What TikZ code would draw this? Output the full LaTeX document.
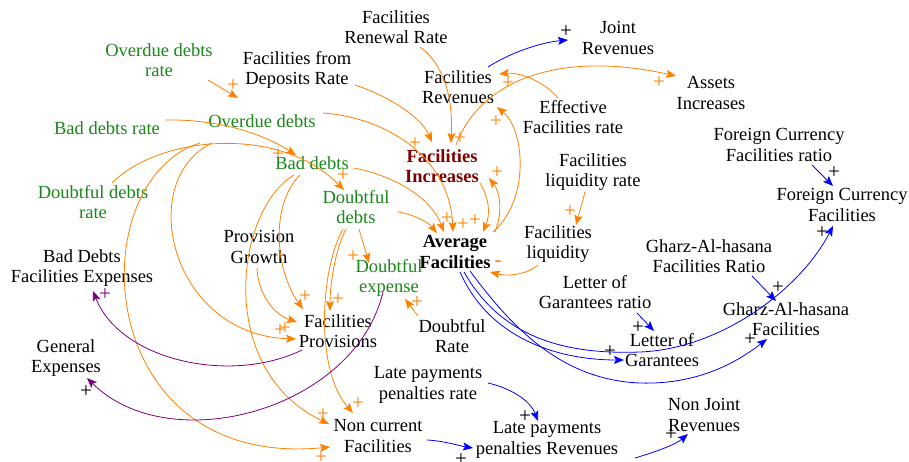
\documentclass[tikz,border=0pt]{standalone}
\usepackage{fontspec}
\setmainfont{Liberation Serif}
\usetikzlibrary{arrows.meta}
\definecolor{cOr}{RGB}{255,128,0}
\definecolor{cBl}{RGB}{0,0,255}
\definecolor{cPu}{RGB}{128,0,128}
\definecolor{cGr}{RGB}{25,135,25}
\definecolor{cRd}{RGB}{128,0,0}
\begin{document}
\begin{tikzpicture}[x=1pt,y=-1pt,
  lab/.style={align=center, inner sep=0pt, font=\fontsize{18.5}{20.5}\selectfont, text=black},
  glab/.style={lab, text=cGr},
  link/.style={line width=0.8pt, -{Stealth[length=10pt,width=8pt,inset=2pt]}},
  olink/.style={link, draw=cOr},
  blink/.style={link, draw=cBl},
  plink/.style={link, draw=cPu},
  pol/.style={inner sep=0pt, font=\fontsize{21}{21}\selectfont},
  opol/.style={pol, text=cOr},
  kpol/.style={pol, text=black},
  ppol/.style={pol, text=cPu}]
\useasboundingbox[fill=white] (0,0) rectangle (909,462);
% nodes
\node[glab] (odr) at (159,60) {Overdue debts\\rate};
\node[lab] (fdr) at (297,70) {Facilities from\\Deposits Rate};
\node[lab] (frr) at (396,27) {Facilities\\Renewal Rate};
\node[lab] (jr) at (618,38) {Joint\\Revenues};
\node[lab] (frev) at (458,87) {Facilities\\Revenues};
\node[lab] (ai) at (711,93) {Assets\\Increases};
\node[lab] (efr) at (573,117) {Effective\\Facilities rate};
\node[glab] (bdr) at (107,128) {Bad debts rate};
\node[glab] (od) at (262,121) {Overdue debts};
\node[lab, text=cRd, font=\fontsize{18.5}{20.5}\selectfont\bfseries] (fi) at (442,166) {Facilities\\Increases};
\node[lab] (fcr) at (779,145) {Foreign Currency\\Facilities ratio};
\node[glab] (bd) at (312,163) {Bad debts};
\node[lab] (flr) at (593,172) {Facilities\\liquidity rate};
\node[lab] (fc) at (842,205) {Foreign Currency\\Facilities};
\node[glab] (ddr) at (93,202) {Doubtful debts\\rate};
\node[glab] (dd) at (356,207) {Doubtful\\debts};
\node[lab, font=\fontsize{18.5}{20.5}\selectfont\bfseries] (af) at (455,252) {Average\\Facilities};
\node[lab] (fl) at (558,244) {Facilities\\liquidity};
\node[lab] (pg) at (259,247) {Provision\\Growth};
\node[lab] (bdfe) at (82,268) {Bad Debts\\Facilities Expenses};
\node[lab] (ghr) at (709,256) {Gharz-Al-hasana\\Facilities Ratio};
\node[glab] (dex) at (389,278) {Doubtful\\expense};
\node[lab] (lgr) at (595,292) {Letter of\\Garantees ratio};
\node[lab] (fp) at (338,331) {Facilities\\Provisions};
\node[lab] (drate) at (452,336) {Doubtful\\Rate};
\node[lab] (gh) at (786,319) {Gharz-Al-hasana\\Facilities};
\node[lab] (lg) at (662,350) {Letter of\\Garantees};
\node[lab] (ge) at (66,358) {General\\Expenses};
\node[lab] (lpr) at (428,385) {Late payments\\penalties rate};
\node[lab] (nj) at (704,415) {Non Joint\\Revenues};
\node[lab] (ncf) at (378,436) {Non current\\Facilities};
\node[lab] (lprev) at (547,440) {Late payments\\penalties Revenues};
% orange links
\draw[olink] ([shift={(49,20)}]odr.center) -- ([shift={(-24,-23)}]od.center);
\draw[olink] ([shift={(58,-8)}]bdr.center) .. controls (215,119) and (260,132) .. ([shift={(-16,-8)}]bd.center);
\draw[olink] ([shift={(19,-19)}]ddr.center) .. controls (160,135) and (280,125) .. ([shift={(-12,-17)}]dd.center);
\draw[olink] ([shift={(61,-8)}]od.center) .. controls (390,118) and (450,160) .. ([shift={(-2,-20)}]af.center);
\draw[olink] ([shift={(58,15)}]fdr.center) .. controls (385,95) and (420,115) .. ([shift={(-10,-24)}]fi.center);
\draw[olink] ([shift={(24,20)}]frr.center) .. controls (445,65) and (453,100) .. ([shift={(9,-23)}]fi.center);
\draw[olink] ([shift={(14,-21)}]fi.center) .. controls (480,80) and (560,50) .. ([shift={(-35,-17)}]ai.center);
\draw[olink] ([shift={(-15,-19)}]efr.center) .. controls (545,82) and (520,72) .. ([shift={(41,-13)}]frev.center);
\draw[olink] ([shift={(38,-20)}]af.center) .. controls (530,200) and (525,130) .. ([shift={(39,20)}]frev.center);
\draw[olink] ([shift={(-8,20)}]flr.center) -- ([shift={(18,-19)}]fl.center);
\draw[olink] ([shift={(-20,21)}]fl.center) .. controls (525,276) and (505,276) .. ([shift={(35,20)}]af.center);
\draw[olink] ([shift={(38,17)}]fi.center) .. controls (490,200) and (490,215) .. ([shift={(28,-20)}]af.center);
\draw[olink] ([shift={(40,-20)}]af.center) .. controls (503,212) and (500,192) .. ([shift={(47,12)}]fi.center);
\draw[olink] ([shift={(42,5)}]bd.center) .. controls (390,175) and (430,195) .. ([shift={(-11,-20)}]af.center);
\draw[olink] ([shift={(42,5)}]dd.center) .. controls (415,215) and (428,222) .. ([shift={(-18,-19)}]af.center);
\draw[olink] ([shift={(3,22)}]dd.center) -- ([shift={(-20,-15)}]dex.center);
\draw[olink] ([shift={(-34,-20)}]drate.center) -- ([shift={(16,21)}]dex.center);
\draw[olink] ([shift={(-10,22)}]dd.center) .. controls (335,250) and (330,285) .. ([shift={(-8,-20)}]fp.center);
\draw[olink] ([shift={(-13,22)}]dd.center) .. controls (320,270) and (315,370) .. ([shift={(-25,-23)}]ncf.center);
\draw[olink] ([shift={(-12,12)}]bd.center) .. controls (270,205) and (275,270) .. ([shift={(-35,-22)}]fp.center);
\draw[olink] ([shift={(-18,12)}]bd.center) .. controls (235,210) and (215,370) .. ([shift={(-49,-12)}]ncf.center);
\draw[olink] ([shift={(-50,22)}]od.center) .. controls (135,180) and (170,335) .. ([shift={(-42,8)}]fp.center);
\draw[olink] ([shift={(-62,22)}]od.center) .. controls (80,180) and (90,470) .. ([shift={(-48,11)}]ncf.center);
\draw[olink] ([shift={(-2,21)}]pg.center) .. controls (258,295) and (275,315) .. ([shift={(-41,-9)}]fp.center);
% purple links
\draw[plink] ([shift={(-36,19)}]fp.center) .. controls (230,385) and (120,360) .. ([shift={(11,23)}]bdfe.center);
\draw[plink] ([shift={(-6,14)}]dex.center) .. controls (355,410) and (170,460) .. ([shift={(21,20)}]ge.center);
% blue links
\draw[blink] ([shift={(30,-20)}]frev.center) .. controls (515,50) and (545,42) .. ([shift={(-50,2)}]jr.center);
\draw[blink] ([shift={(33,20)}]fcr.center) -- ([shift={(-9,-19)}]fc.center);
\draw[blink] ([shift={(43,20)}]ghr.center) -- ([shift={(-10,-18)}]gh.center);
\draw[blink] ([shift={(42,21)}]lgr.center) -- ([shift={(-8,-19)}]lg.center);
\draw[blink] ([shift={(5,20)}]af.center) .. controls (490,340) and (560,360) .. ([shift={(-38,10)}]lg.center);
\draw[blink] ([shift={(9,20)}]af.center) .. controls (500,335) and (560,355) .. (640,352) .. controls (720,349) and (800,290) .. ([shift={(-9,21)}]fc.center);
\draw[blink] ([shift={(15,19)}]af.center) .. controls (510,325) and (560,380) .. (640,383) .. controls (700,385) and (740,360) .. ([shift={(-19,20)}]gh.center);
\draw[blink] ([shift={(60,-2)}]lpr.center) .. controls (510,388) and (530,400) .. ([shift={(-9,-19)}]lprev.center);
\draw[blink] ([shift={(49,4)}]ncf.center) .. controls (445,441) and (460,446) .. ([shift={(-74,8)}]lprev.center);
\draw[blink] ([shift={(88,18)}]lprev.center) .. controls (655,452) and (675,445) .. ([shift={(-16,19)}]nj.center);
% polarities
\node[opol] (s1) at (233,86) {+};
\node[opol] (s2) at (278,155) {+};
\node[opol] (s3) at (343,176) {+};
\node[opol] (s4) at (415,144) {+};
\node[opol] (s5) at (460,139) {+};
\node[opol] (s6) at (659,83) {+};
\node[opol] (s7) at (508,84) {+};
\node[opol] (s8) at (496,122) {+};
\node[opol] (s9) at (570,212) {+};
\node[opol] (s10) at (447,219) {+};
\node[opol] (s11) at (463,225) {+};
\node[opol] (s12) at (475,221) {+};
\node[opol] (s13) at (497,173) {+};
\node[opol] (s14) at (353,257) {+};
\node[opol] (s15) at (417,303) {+};
\node[opol] (s16) at (338,300) {+};
\node[opol] (s17) at (305,297) {+};
\node[opol] (s18) at (280,331) {+};
\node[opol] (s19) at (285,329) {+};
\node[opol] (s20) at (358,404) {+};
\node[opol] (s21) at (323,415) {+};
\node[opol] (s22) at (321,458) {+};
\node[opol] (s23) at (498,264) {-};
\node[kpol] (k1) at (566,32) {+};
\node[kpol] (k2) at (834,173) {+};
\node[kpol] (k3) at (778,288) {+};
\node[kpol] (k4) at (638,328) {+};
\node[kpol] (k5) at (610,352) {+};
\node[kpol] (k6) at (822,233) {+};
\node[kpol] (k7) at (750,340) {+};
\node[kpol] (k8) at (525,417) {+};
\node[kpol] (k9) at (461,460) {+};
\node[kpol] (k10) at (671,435) {+};
\node[kpol] (k11) at (86,392) {+};
\node[ppol] (q1) at (105,295) {+};
\end{tikzpicture}
\end{document}
